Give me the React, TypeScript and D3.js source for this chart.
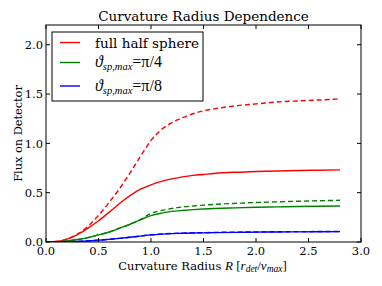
import { useLayoutEffect, useRef, useState } from "react";
import * as d3 from "d3";

const radius = [0, 0.1, 0.2, 0.3, 0.4, 0.5, 0.6, 0.7, 0.8, 0.9, 1.0, 1.1, 1.2, 1.3, 1.4, 1.5, 1.6, 1.8, 2.0, 2.2, 2.4, 2.6, 2.8];

const fullSolid = [0, 0.005, 0.03, 0.075, 0.14, 0.215, 0.3, 0.39, 0.47, 0.535, 0.58, 0.615, 0.64, 0.66, 0.675, 0.685, 0.695, 0.707, 0.714, 0.72, 0.725, 0.728, 0.731];
const fullDashed = [0, 0.005, 0.03, 0.08, 0.16, 0.27, 0.4, 0.54, 0.7, 0.87, 1.03, 1.14, 1.21, 1.26, 1.3, 1.33, 1.35, 1.38, 1.4, 1.42, 1.43, 1.44, 1.45];
const quarterSolid = [0, 0.002, 0.01, 0.025, 0.045, 0.072, 0.1, 0.14, 0.18, 0.225, 0.268, 0.293, 0.31, 0.32, 0.328, 0.334, 0.339, 0.346, 0.352, 0.356, 0.36, 0.363, 0.365];
const quarterDashed = [0, 0.002, 0.01, 0.025, 0.045, 0.072, 0.1, 0.14, 0.18, 0.228, 0.29, 0.32, 0.34, 0.355, 0.365, 0.374, 0.381, 0.392, 0.4, 0.407, 0.413, 0.418, 0.423];
const eighthSolid = [0, 0.0005, 0.002, 0.006, 0.011, 0.018, 0.027, 0.037, 0.048, 0.06, 0.072, 0.08, 0.085, 0.088, 0.091, 0.093, 0.095, 0.098, 0.1, 0.102, 0.103, 0.104, 0.105];
const eighthDashed = [0, 0.0005, 0.002, 0.006, 0.011, 0.018, 0.027, 0.037, 0.048, 0.06, 0.073, 0.081, 0.087, 0.09, 0.093, 0.095, 0.097, 0.1, 0.102, 0.104, 0.105, 0.106, 0.107];

const xTicks = [0, 0.5, 1.0, 1.5, 2.0, 2.5, 3.0];
const yTicks = [0, 0.5, 1.0, 1.5, 2.0];

const series = [
  { values: fullDashed, color: "#ff0000", dash: "5,3" },
  { values: quarterDashed, color: "#008000", dash: "5,3" },
  { values: eighthDashed, color: "#0000ff", dash: "5,3" },
  { values: fullSolid, color: "#ff0000", dash: null },
  { values: quarterSolid, color: "#008000", dash: null },
  { values: eighthSolid, color: "#0000ff", dash: null },
];

const legendItems = [
  { color: "#ff0000", label: "full", lineY: 42.5, textY: 47.5 },
  { color: "#008000", label: "π/4", lineY: 62.5, textY: 67 },
  { color: "#0000ff", label: "π/8", lineY: 86, textY: 90.5 },
];

const font = "DejaVu Serif";
const mathFont = "Liberation Serif";

const targets = { title: 211, ylabel: 97, legend: 104 };

export default function App() {
  const width = 382;
  const height = 286;
  const margin = { top: 25, right: 21, bottom: 44, left: 46 };

  const titleRef = useRef<SVGTextElement>(null);
  const ylabelRef = useRef<SVGTextElement>(null);
  const legendRef = useRef<SVGTextElement>(null);
  const [sizes, setSizes] = useState({ title: 14, ylabel: 12, legend: 14 });
  const [fitted, setFitted] = useState(false);

  useLayoutEffect(() => {
    if (fitted) return;
    const fit = (el: SVGTextElement | null, base: number, target: number) => {
      if (!el) return base;
      const w = el.getBBox().width;
      return w > 0 ? (base * target) / w : base;
    };
    setSizes({
      title: fit(titleRef.current, sizes.title, targets.title),
      ylabel: fit(ylabelRef.current, sizes.ylabel, targets.ylabel),
      legend: fit(legendRef.current, sizes.legend, targets.legend),
    });
    setFitted(true);
  }, [fitted]);

  const x = d3.scaleLinear().domain([0, 3]).range([margin.left, width - margin.right]);
  const y = d3.scaleLinear().domain([0, 2.2]).range([height - margin.bottom, margin.top]);

  const line = d3
    .line<number>()
    .x((_, i) => x(radius[i]))
    .y((d) => y(d))
    .curve(d3.curveMonotoneX);

  const [x0, x1] = x.range();
  const [y0, y1] = y.range();

  return (
    <svg width={width} height={height} style={{ position: "absolute", left: 0, top: 0 }}>
      <rect width={width} height={height} fill="#fff" />
      <defs>
        <clipPath id="plot">
          <rect x={x0} y={y1} width={x1 - x0} height={y0 - y1} />
        </clipPath>
      </defs>
      <g clipPath="url(#plot)">
        {series.map((s, i) => (
          <path
            key={i}
            d={line(s.values) ?? ""}
            fill="none"
            stroke={s.color}
            strokeWidth={1.4}
            strokeDasharray={s.dash ?? undefined}
          />
        ))}
      </g>
      <rect x={x0} y={y1} width={x1 - x0} height={y0 - y1} fill="none" stroke="#000" strokeWidth={1} />
      {xTicks.map((t) => (
        <g key={"x" + t}>
          <line x1={x(t)} x2={x(t)} y1={y0} y2={y0 - 4} stroke="#000" />
          <line x1={x(t)} x2={x(t)} y1={y1} y2={y1 + 4} stroke="#000" />
          <text x={x(t)} y={y0 + 13} textAnchor="middle" fontFamily={font} fontSize={11.5}>
            {t.toFixed(1)}
          </text>
        </g>
      ))}
      {yTicks.map((t) => (
        <g key={"y" + t}>
          <line x1={x0} x2={x0 + 4} y1={y(t)} y2={y(t)} stroke="#000" />
          <line x1={x1} x2={x1 - 4} y1={y(t)} y2={y(t)} stroke="#000" />
          <text x={x0 - 3} y={y(t) + 4.2} textAnchor="end" fontFamily={font} fontSize={11.5}>
            {t.toFixed(1)}
          </text>
        </g>
      ))}
      <text ref={titleRef} x={(x0 + x1) / 2} y={20.5} textAnchor="middle" fontFamily={font} fontSize={sizes.title}>
        Curvature Radius Dependence
      </text>
      <text x={(x0 + x1) / 2 - 1} y={269.5} textAnchor="middle" fontFamily={font} fontSize={11.5}>
        Curvature Radius{" "}
        <tspan fontFamily={mathFont} fontStyle="italic" fontSize={13}>R</tspan>
        <tspan fontFamily={mathFont} fontSize={13}> [</tspan>
        <tspan fontFamily={mathFont} fontStyle="italic" fontSize={13}>r</tspan>
        <tspan fontFamily={mathFont} fontStyle="italic" fontSize={9.5} dy={2.5}>det</tspan>
        <tspan fontFamily={mathFont} fontSize={13} dy={-2.5}>/</tspan>
        <tspan fontFamily={mathFont} fontStyle="italic" fontSize={13}>v</tspan>
        <tspan fontFamily={mathFont} fontStyle="italic" fontSize={9.5} dy={2.5}>max</tspan>
        <tspan fontFamily={mathFont} fontSize={13} dy={-2.5}>]</tspan>
      </text>
      <text
        ref={ylabelRef}
        transform={`translate(22,${(y0 + y1) / 2}) rotate(-90)`}
        textAnchor="middle"
        fontFamily={font}
        fontSize={sizes.ylabel}
      >
        Flux on Detector
      </text>
      <g>
        <rect x={52} y={32} width={151} height={69} fill="#fff" stroke="#000" strokeWidth={1} />
        {legendItems.map((l, i) => (
          <g key={l.label}>
            <line x1={60} x2={80} y1={l.lineY} y2={l.lineY} stroke={l.color} strokeWidth={1.4} />
            {i === 0 ? (
              <text ref={legendRef} x={95} y={l.textY} fontFamily={font} fontSize={sizes.legend}>
                full half sphere
              </text>
            ) : (
              <text x={95} y={l.textY} fontFamily={mathFont} fontSize={16}>
                <tspan fontStyle="italic">ϑ</tspan>
                <tspan fontStyle="italic" fontSize={10.5} dy={3}>sp,max</tspan>
                <tspan dy={-3}>=</tspan>
                <tspan>{l.label}</tspan>
              </text>
            )}
          </g>
        ))}
      </g>
    </svg>
  );
}
